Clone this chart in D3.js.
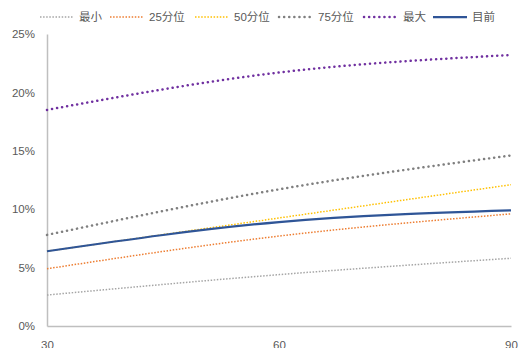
<!DOCTYPE html>
<html><head><meta charset="utf-8">
<script src="https://cdn.jsdelivr.net/npm/d3@7/dist/d3.min.js"></script>
<style>body{margin:0;background:#fff}svg{display:block}</style>
</head><body><svg id="c" width="520" height="348"></svg>
<script>
const categories = [30, 60, 90];
const seriesNames = ["最小", "25分位", "50分位", "75分位", "最大", "目前"];
const vMin = [0.0265, 0.044, 0.058];
const vP25 = [0.049, 0.077, 0.096];
const vP50 = [0.064, 0.0925, 0.121];
const vP75 = [0.078, 0.117, 0.146];
const vMax = [0.185, 0.217, 0.232];
const vNow = [0.064, 0.089, 0.099];
const yTicks = [0, 0.05, 0.10, 0.15, 0.20, 0.25];

const styles = [
  {color:"#A5A5A5", w:1.5, dash:"1.5,1.6", cap:"butt"},
  {color:"#ED7D31", w:1.5, dash:"1.5,1.6", cap:"butt"},
  {color:"#FFC000", w:1.5, dash:"1.5,1.6", cap:"butt"},
  {color:"#7F7F7F", w:2.5, dash:"0.1,5", cap:"round"},
  {color:"#7030A0", w:2.5, dash:"0.1,5", cap:"round"},
  {color:"#2F5597", w:2.25, dash:null, cap:"butt"}
];
const allVals = [vMin, vP25, vP50, vP75, vMax, vNow];

const svg = d3.select("#c");
const x = d3.scaleLinear().domain([30, 90]).range([47, 511]);
const y = d3.scaleLinear().domain([0, 0.25]).range([326, 34]);
const font = "'Liberation Sans', 'Noto Sans CJK SC', sans-serif";

// axes
const yAxis = svg.append("g").attr("transform","translate(47,0)")
  .call(d3.axisLeft(y).tickValues(yTicks).tickFormat(d3.format(".0%")).tickSize(0).tickPadding(12));
yAxis.select(".domain").attr("stroke","#BFBFBF").attr("stroke-width",1.5);
yAxis.selectAll("text").attr("fill","#595959").style("font-family",font).style("font-size","11.5px");

const xAxis = svg.append("g").attr("transform","translate(0,326)")
  .call(d3.axisBottom(x).tickValues(categories).tickSize(0).tickPadding(15));
xAxis.select(".domain").attr("stroke","#BFBFBF").attr("stroke-width",1.5);
xAxis.selectAll("text").attr("fill","#595959").style("font-family",font).style("font-size","11.5px");

// lines
const line = d3.line().x((d,i)=>x(categories[i])).y(d=>y(d)).curve(d3.curveMonotoneX);
allVals.forEach((vals,k)=>{
  const s = styles[k];
  svg.append("path").datum(vals).attr("d", line)
    .attr("fill","none").attr("stroke",s.color).attr("stroke-width",s.w)
    .attr("stroke-dasharray",s.dash).attr("stroke-linecap",s.cap);
});

// legend
const legX = [40, 110, 195, 279, 364, 433];
const lg = svg.append("g");
seriesNames.forEach((n,k)=>{
  const s = styles[k];
  lg.append("line").attr("x1",legX[k]).attr("x2",legX[k]+34).attr("y1",17).attr("y2",17)
    .attr("stroke",s.color).attr("stroke-width",s.w).attr("stroke-dasharray",s.dash).attr("stroke-linecap",s.cap);
  lg.append("text").attr("x",legX[k]+39).attr("y",21).text(n)
    .attr("fill","#595959").style("font-family",font).style("font-size","11.5px");
});
</script></body></html>
